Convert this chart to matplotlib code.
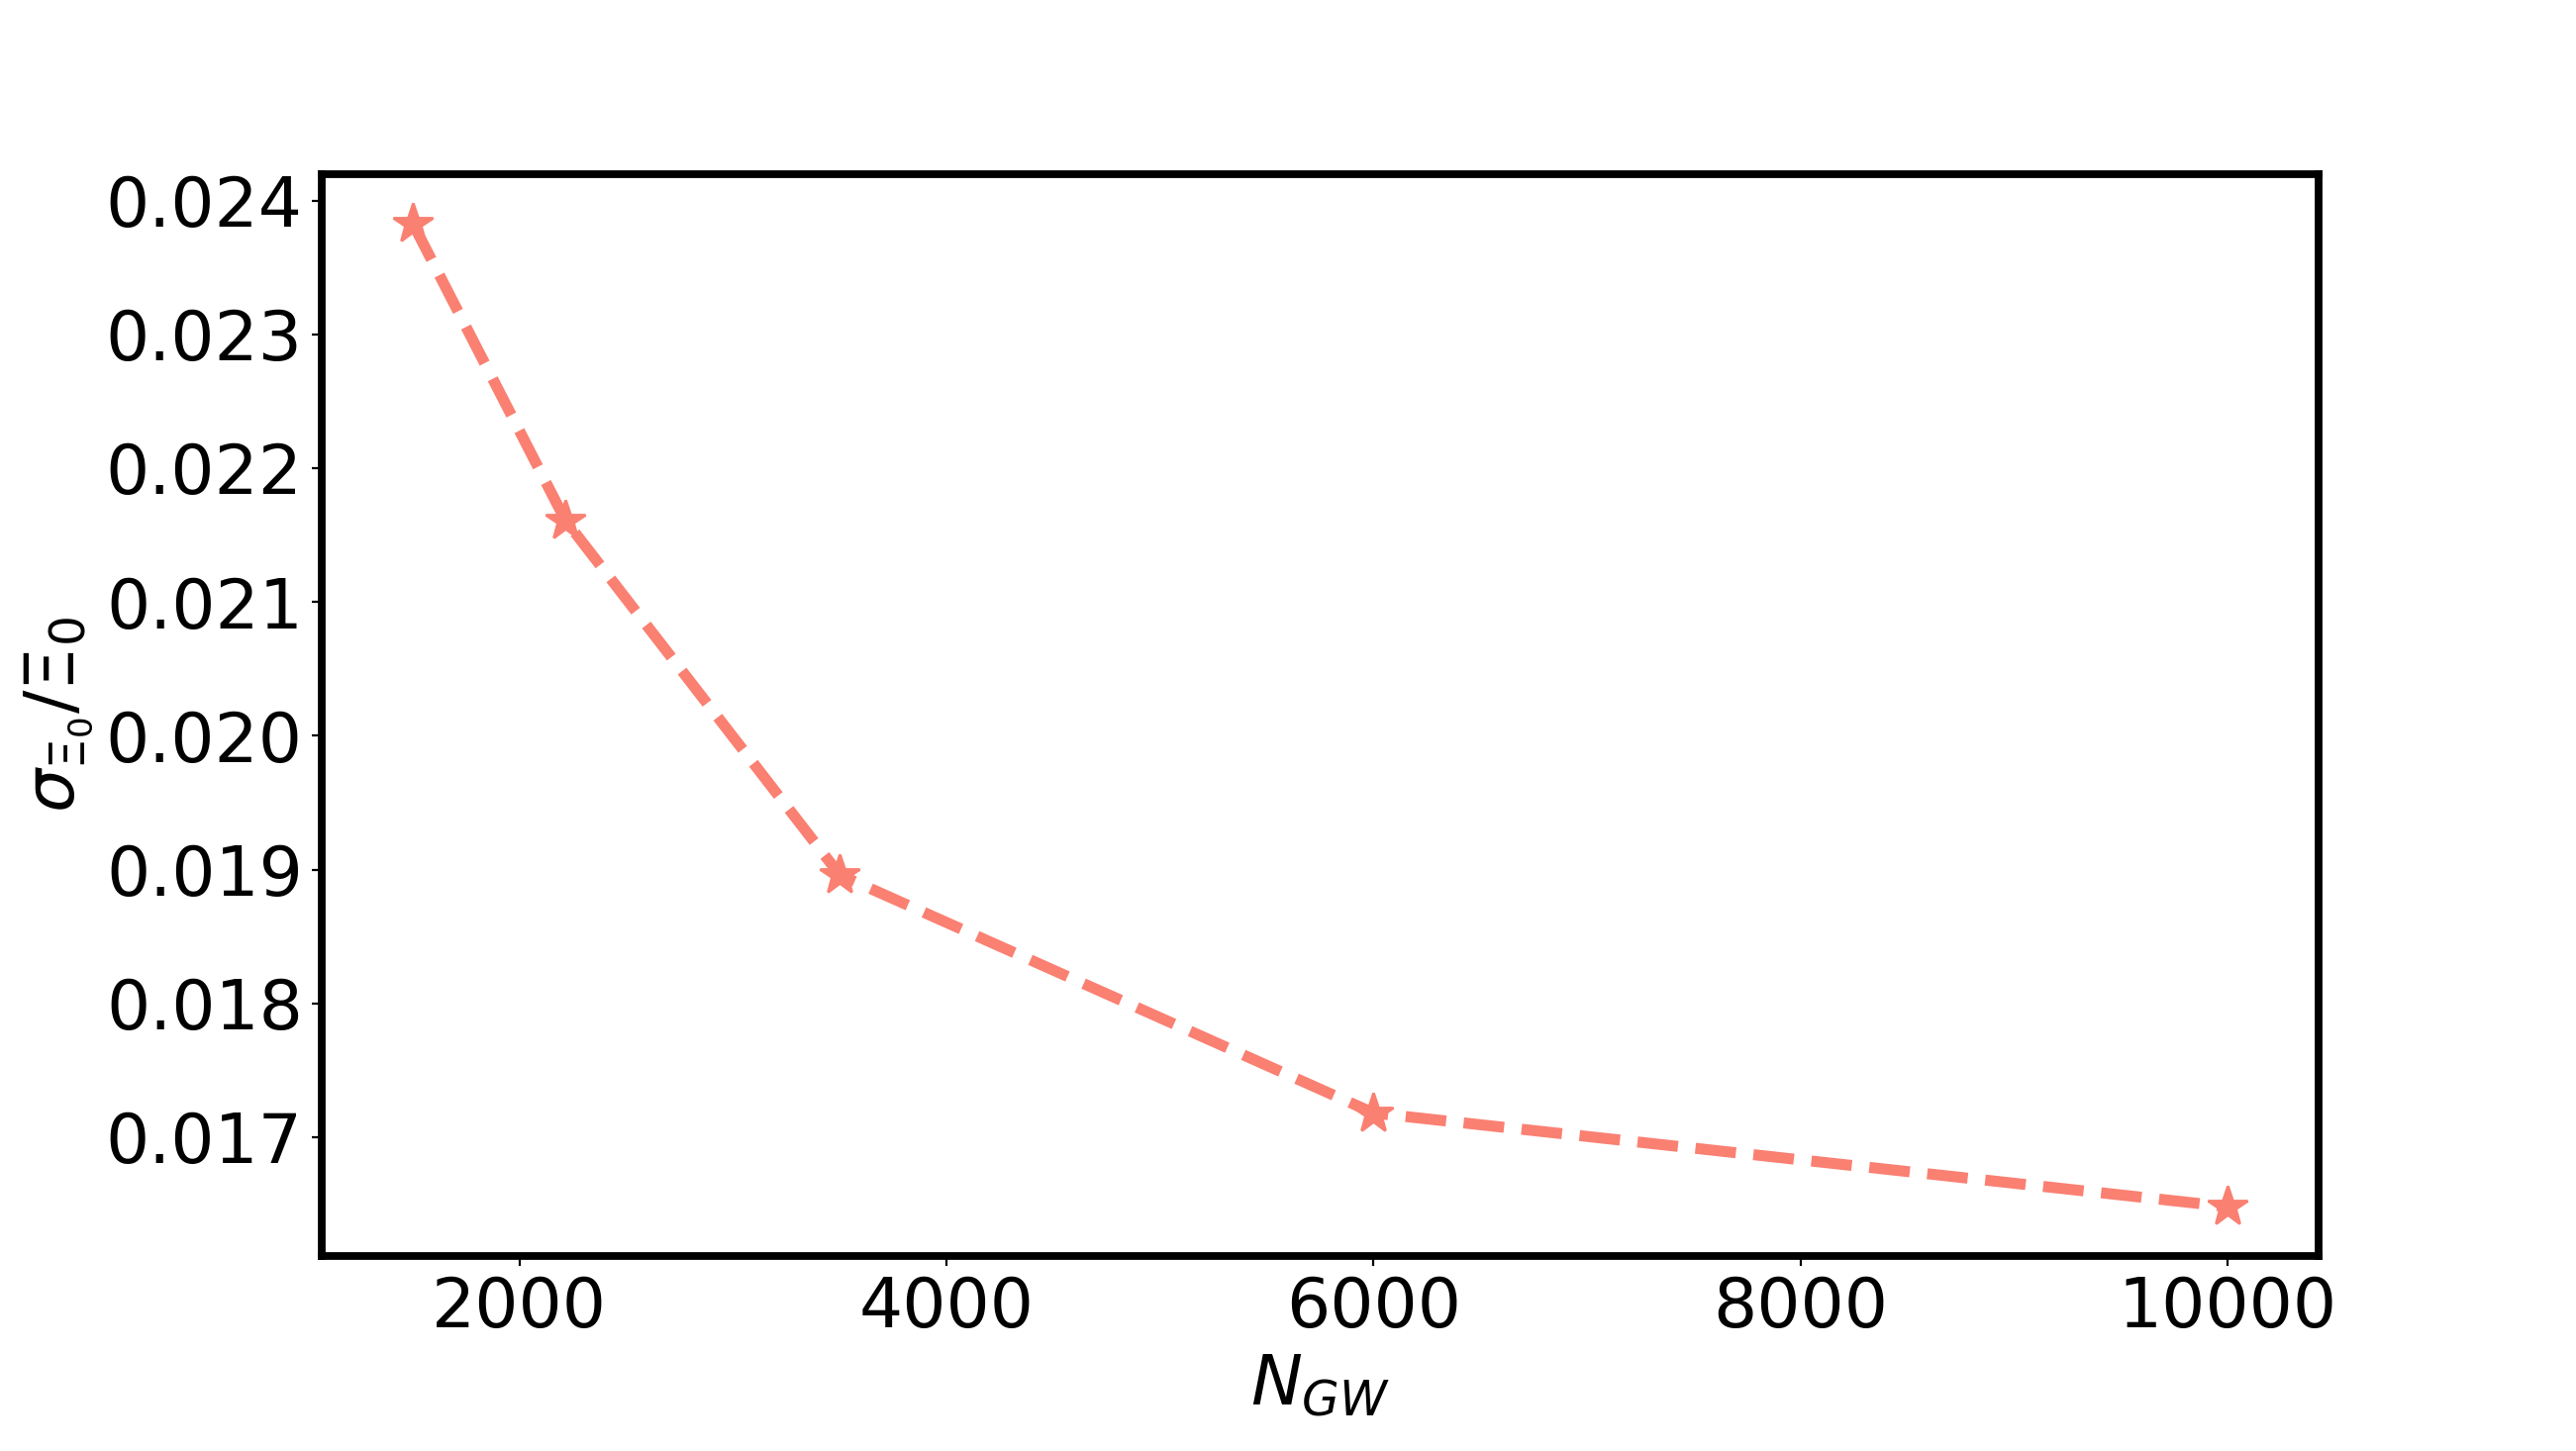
import matplotlib
matplotlib.use("Agg")
import matplotlib.pyplot as plt
from matplotlib.ticker import MultipleLocator

# number of GW events vs relative error on Xi_0
n_gw = [1500, 2215, 3500, 6000, 10000]
rel_err = [0.02383, 0.02161, 0.01896, 0.01718, 0.01648]

fig, ax = plt.subplots(figsize=(13.01, 7.33), dpi=200)
fig.subplots_adjust(left=0.125, right=0.9, top=0.88, bottom=0.1345)

ax.plot(n_gw, rel_err, ls="--", lw=4, color="salmon", marker="*", markersize=15)

ax.yaxis.set_major_locator(MultipleLocator(0.001))
ax.set_xlabel(r"$N_{GW}$", fontsize=25)
ax.set_ylabel(r"$\sigma_{\Xi_0}/\Xi_0$", fontsize=25)
ax.tick_params(labelsize=25)
for sp in ax.spines.values():
    sp.set_linewidth(2.8)

fig.savefig("out.png", dpi=200)
